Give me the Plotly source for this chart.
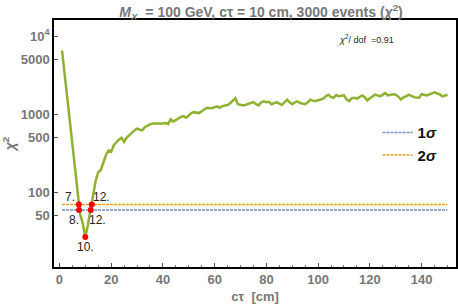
import math
import plotly.graph_objects as go

# chi^2 scan vs c*tau (cm)
ctau = list(range(1, 151))
chi2 = [6560, 3200, 1600, 800, 400, 200, 100, 52, 40, 26.5,
        38, 58, 85, 140, 180, 192, 240, 300, 342, 330,
        400, 437, 470, 498, 440, 500, 540, 590, 618, 650,
        630, 620, 680, 716, 740, 760, 767, 760, 753, 765,
        767, 743, 860, 800, 840, 880, 920, 942, 900, 960,
        1030, 1060, 1040, 1031, 1090, 1138, 1208, 1195, 1190, 1230,
        1256, 1208, 1270, 1294, 1310, 1380, 1500, 1603, 1340, 1310,
        1294, 1320, 1360, 1390, 1425, 1340, 1294, 1420, 1460, 1420,
        1440, 1340, 1380, 1425, 1360, 1310, 1420, 1531, 1420, 1340,
        1420, 1460, 1390, 1374, 1340, 1420, 1531, 1490, 1470, 1510,
        1540, 1580, 1700, 1775, 1652, 1620, 1760, 1700, 1720, 1740,
        1550, 1470, 1600, 1620, 1580, 1640, 1740, 1650, 1500, 1600,
        1690, 1775, 1740, 1690, 1780, 1860, 1740, 1780, 1800, 1775,
        1680, 1540, 1640, 1690, 1775, 1720, 1652, 1630, 1620, 1800,
        1760, 1740, 1790, 1830, 1905, 1840, 1800, 1690, 1740, 1775]

sigma_x = [1, 150]
sigma1 = 58.8
sigma2 = 69.5

# crossing points and minimum
cross_x = [7.5, 7.6, 12.5, 12.1, 10.0]
cross_y = [69.5, 58.8, 69.5, 58.8, 26.5]
cross_lbl = ["7.", "8.", "12.", "12.", "10."]

y_tickvals = [50, 100, 500, 1000, 5000, 10000]
y_ticktext = ["50", "100", "500", "1000", "5000", "10<sup>4</sup>"]
x_tickvals = [0, 20, 40, 60, 80, 100, 120, 140]

gray = "#777777"
font_fam = "Liberation Sans, Arial, sans-serif"

fig = go.Figure()
fig.add_trace(go.Scatter(x=ctau, y=chi2, mode="lines",
                         line=dict(color="#8FB131", width=2.5),
                         showlegend=False, hoverinfo="skip"))
fig.add_trace(go.Scatter(x=sigma_x, y=[sigma1, sigma1], mode="lines",
                         line=dict(color="#6F8FC4", width=1.5, dash="3px,1px"),
                         name="<b>1<i>σ</i></b>"))
fig.add_trace(go.Scatter(x=sigma_x, y=[sigma2, sigma2], mode="lines",
                         line=dict(color="#E3A032", width=1.5, dash="3px,1px"),
                         name="<b>2<i>σ</i></b>"))
fig.add_trace(go.Scatter(x=cross_x, y=cross_y, mode="markers",
                         marker=dict(color="#FF0000", size=6),
                         showlegend=False))

# labels next to crossing points (log axis -> annotation y in log10 units)
lbl_shift = [(-9, -7), (-5, 9.5), (10, -7), (7, 9.5), (0, 9.5)]
for x, y, t, (dx, dy) in zip(cross_x, cross_y, cross_lbl, lbl_shift):
    fig.add_annotation(x=x, y=math.log10(y), yref="y", xref="x", text=t, showarrow=False,
                       xshift=dx, yshift=-dy,
                       font=dict(size=12, color="#222222", family=font_fam))

fig.add_annotation(xref="paper", yref="paper", x=0.85, y=0.955,
                   text="<i>χ</i><sup>2</sup>/ dof  =0.91", showarrow=False,
                   font=dict(size=9, color="#222222", family=font_fam))

axis_common = dict(showline=True, linecolor="black", linewidth=1.5, mirror=True,
                   ticks="inside", tickcolor="#555555", ticklen=4, tickwidth=1,
                   showgrid=False, zeroline=False,
                   tickfont=dict(size=13, color=gray, family=font_fam, weight="bold"))

fig.update_xaxes(range=[-2.1, 153.3], tickvals=x_tickvals,
                 minor=dict(ticks="inside", dtick=5, tick0=0, ticklen=2, tickcolor="#777777"),
                 title=dict(text="<b>cτ  [cm]</b>", font=dict(size=13, color=gray, family=font_fam),
                            standoff=6),
                 **axis_common)
fig.update_yaxes(type="log", range=[1.04, 4.207], tickvals=y_tickvals, ticktext=y_ticktext,
                 title=dict(text="<b><i>χ</i><sup>2</sup></b>", font=dict(size=14, color=gray, family=font_fam),
                            standoff=4),
                 **axis_common)

fig.update_layout(
    width=458, height=308, autosize=False,
    margin=dict(l=54, r=2, t=20, b=41, autoexpand=False),
    paper_bgcolor="white", plot_bgcolor="white",
    title=dict(text="<b><i>M<sub>X</sub></i>  = 100 GeV, cτ = 10 cm, 3000 events (<i>χ</i><sup>2</sup>)</b>",
               x=0.57, xanchor="center", y=0.962, yanchor="middle",
               font=dict(size=14, color=gray, family=font_fam)),
    legend=dict(x=0.805, y=0.61, xanchor="left", yanchor="top", bgcolor="rgba(0,0,0,0)",
                itemwidth=30, font=dict(size=15, color="#111111", family=font_fam)),
    font=dict(family=font_fam),
)

fig.write_html("out.html", config={"responsive": False, "displayModeBar": False},
               post_script="document.body.style.margin='0';document.body.style.overflow='hidden';")
